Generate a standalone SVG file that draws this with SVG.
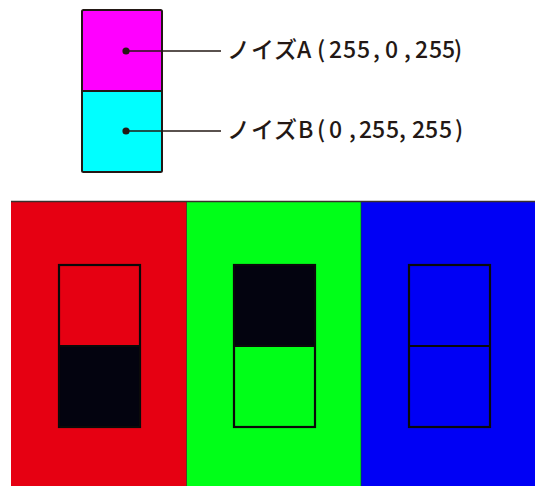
<svg xmlns="http://www.w3.org/2000/svg" width="535" height="486" viewBox="0 0 535 486">
<style>
.lbl{font-family:"Noto Sans CJK JP","Noto Sans",sans-serif;font-size:23px;font-weight:500;fill:#231815}
.lead{stroke:#231815;stroke-width:1.6;fill:none}
.dot{fill:#231815}
.cell{stroke:#0a0a0a;stroke-width:2.2}
.edge{stroke:#231815;stroke-width:2;stroke-linejoin:round}
</style>
<g id="legend-box">
<rect x="82" y="10" width="80" height="81" fill="#ff00ff"/>
<rect x="82" y="91" width="80" height="81" fill="#00ffff"/>
<rect x="82" y="10" width="80" height="162" rx="1.5" fill="none" class="edge"/>
<line x1="82" y1="91" x2="162" y2="91" class="edge"/>
</g>
<g id="connectors">
<circle cx="126" cy="51" r="3.6" class="dot"/>
<line x1="126" y1="51" x2="221" y2="51" class="lead"/>
<circle cx="126" cy="131" r="3.6" class="dot"/>
<line x1="126" y1="131" x2="221" y2="131" class="lead"/>
</g>
<g id="label-a">
<text class="lbl" y="57.5" x="227 251 274 297 317 329 343 357 373 385 404 415 429 442 454">ノイズA(255,0,255)</text>
</g>
<g id="label-b">
<text class="lbl" y="137.5" x="227 251 274 298 317 329 349 359 372 386 399 412 425 439 455">ノイズB(0,255,255)</text>
</g>
<g id="panel-red">
<rect x="11" y="201.5" width="175.5" height="284.5" fill="#e60012"/>
<rect x="59" y="346" width="81" height="81" fill="#03030f"/>
<rect x="59" y="265" width="81" height="162" fill="none" class="cell"/>
<line x1="59" y1="346" x2="140" y2="346" class="cell"/>
</g>
<g id="panel-green">
<rect x="186.5" y="201.5" width="174.5" height="284.5" fill="#00ff18"/>
<rect x="234" y="265" width="81" height="81" fill="#03030f"/>
<rect x="234" y="265" width="81" height="162" fill="none" class="cell"/>
<line x1="234" y1="346" x2="315" y2="346" class="cell"/>
</g>
<g id="panel-blue">
<rect x="361" y="201.5" width="174" height="284.5" fill="#0000f5"/>
<rect x="409" y="265" width="81" height="162" fill="none" class="cell"/>
<line x1="409" y1="346" x2="490" y2="346" class="cell"/>
</g>
<g id="panel-borders">
<line x1="11" y1="201.5" x2="535" y2="201.5" stroke="#3a302c" stroke-width="1.5"/>
<line x1="186.5" y1="202" x2="186.5" y2="486" stroke="#4a2020" stroke-width="0.8"/>
<line x1="361" y1="202" x2="361" y2="486" stroke="#0a4a20" stroke-width="0.6"/>
</g>
</svg>
